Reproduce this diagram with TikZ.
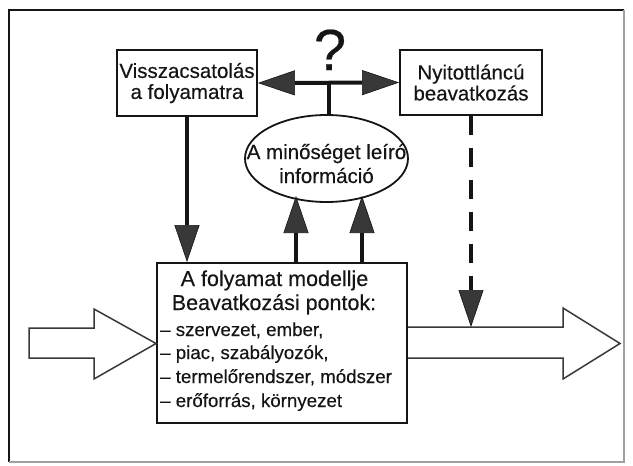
\documentclass[tikz,border=0pt]{standalone}
\usepackage{fontspec}
\setmainfont{Liberation Sans}[FakeBold=0.35]
\usetikzlibrary{arrows.meta,shapes.geometric}
\definecolor{ink}{HTML}{151515}
\definecolor{headfill}{HTML}{383838}
\definecolor{framegray}{HTML}{A0A0A0}
\tikzset{bighead/.tip={Triangle[length=37pt,width=25pt,line width=0.6pt,fill=headfill]}}
\begin{document}
\begin{tikzpicture}[x=1pt,y=-1pt,
  boxtext/.style={font=\fontsize{20.5}{21}\selectfont,text=ink},
  box/.style={boxtext,draw=ink,line width=1.8pt,rectangle,inner sep=0pt,align=center},
  headtext/.style={font=\fontsize{21.5}{24}\selectfont,text=ink,inner sep=0pt,anchor=base},
  listtext/.style={font=\fontsize{18.7}{24}\selectfont,text=ink,inner sep=0pt,anchor=base west},
  flow/.style={draw=ink,line width=4pt,-{bighead}},
  bigarrow/.style={draw=ink!85,line width=1.5pt,line join=miter}
]
\useasboundingbox (0,0) rectangle (633,466);

% outer frame
\draw[ink,line width=2.4pt] (9,462) -- (9,10) -- (624,10);
\draw[framegray,line width=1.2pt] (624,10) -- (624,462) -- (9,462);

% boxes
\node[box,minimum width=140pt,minimum height=66pt] (lb) at (187,83)
  {Visszacsatolás\\a folyamatra};
\node[box,minimum width=142pt,minimum height=65pt] (rb) at (471,82.5)
  {Nyitottláncú\\beavatkozás};
\node[draw=ink,line width=1.8pt,ellipse,minimum width=163pt,minimum height=87pt,
  inner sep=0pt] (ell) at (326.5,158.5) {};
\node[boxtext,inner sep=0pt,anchor=base] (ellA) at (326.5,159) {A minőséget leíró};
\node[boxtext,inner sep=0pt,anchor=base] (ellB) at (326.5,183) {információ};

\node[font=\fontsize{58}{58}\selectfont,text=ink,inner sep=0pt,anchor=base] (qm)
  at (330,70) {?};

% process model box
\node[draw=ink,line width=1.8pt,minimum width=250pt,minimum height=160pt,
  inner sep=0pt] (mb) at (282,343) {};
\node[headtext] (mA) at (274.5,286) {A folyamat modellje};
\node[headtext] (mB) at (274,310) {Beavatkozási pontok:};
\node[listtext] (l1) at (160,336) {– szervezet, ember,};
\node[listtext] (l2) at (160,359) {– piac, szabályozók,};
\node[listtext] (l3) at (160,383) {– termelőrendszer, módszer};
\node[listtext] (l4) at (160,407) {– erőforrás, környezet};

% double-headed link between the two control boxes
\coordinate (mid) at (329,83);
\draw[draw=ink,line width=4pt,{bighead}-{bighead}] (lb.east) -- (rb.west);
\draw[draw=ink,line width=4pt] (mid) -- (mid |- ell.north);

% feedback into the process model
\draw[flow] (lb.south) -- (lb.south |- mb.north);

% information flowing up into the ellipse
\coordinate (u1) at (296,263);
\coordinate (u2) at (362,263);
\coordinate (e1) at (296,196);
\coordinate (e2) at (362,196);
\draw[flow] (u1) -- (e1);
\draw[flow] (u2) -- (e2);

% open-loop intervention (dashed)
\coordinate (dtip) at (471,327);
\draw[flow,dash pattern=on 19pt off 13pt] (rb.south) -- (dtip);

% input and output block arrows
\draw[bigarrow] (29,328) -- (94,328) -- (94,309) -- (156,343.5) -- (94,379)
  -- (94,358) -- (29,358) -- cycle;
\draw[bigarrow] (mb.east |- 0,327) -- (563,327) -- (563,308) -- (620,343.5)
  -- (563,379) -- (563,358) -- (mb.east |- 0,358);
\end{tikzpicture}
\end{document}
